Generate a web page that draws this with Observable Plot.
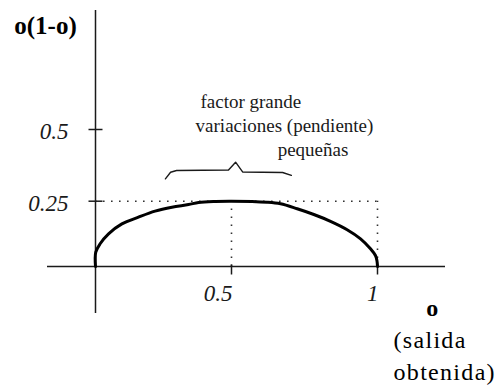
<!DOCTYPE html>
<html>
<head>
<meta charset="utf-8">
<script src="https://cdn.jsdelivr.net/npm/d3@7"></script>
<script src="https://cdn.jsdelivr.net/npm/@observablehq/plot@0.6"></script>
<style>
  html, body { margin: 0; padding: 0; background: #fff; }
  #chart svg { display: block; background: #fff; }
</style>
</head>
<body>
<div id="chart"></div>
<script>
// Curve o(1-o) as drawn in the reference
const curveO = [0, 0.001, 0.017, 0.048, 0.097, 0.158, 0.219, 0.281, 0.342, 0.379, 0.441, 0.5,
                0.622, 0.668, 0.725, 0.782, 0.839, 0.896, 0.942, 0.976, 0.993, 0.998, 1];
const curveV = [0, 0.055, 0.087, 0.125, 0.163, 0.189, 0.212, 0.227, 0.237, 0.245, 0.249, 0.25,
                0.246, 0.240, 0.221, 0.199, 0.173, 0.141, 0.106, 0.068, 0.042, 0.023, 0];

// Peak reference and guides
const peakO = 0.5;
const peakV = 0.25;
const endO = 1;

// Ticks
const xTicks = [0.5, 1];
const xTickLabels = ["0.5", "1"];
const yTicks = [0.25, 0.5];
const yTickLabels = ["0.25", "0.5"];

// Brace drawn over the flat part
const braceO = [0.257, 0.276, 0.298, 0.489, 0.514, 0.538, 0.675, 0.705];
const braceV = [0.328, 0.351, 0.357, 0.359, 0.386, 0.352, 0.350, 0.340];

// Texts
const titleText = "o(1-o)";
const noteLines = ["factor grande", "variaciones (pendiente)", "pequeñas"];
const xLabelName = "o";
const xLabelLines = ["(salida", "obtenida)"];

const curve = curveO.map((o, i) => ({o, v: curveV[i]}));
const brace = braceO.map((o, i) => ({o, v: braceV[i]}));

const hDash = {draw(ctx, size) { const r = Math.sqrt(size / Math.PI); ctx.moveTo(-r, 0); ctx.lineTo(r, 0); }};
const vDash = {draw(ctx, size) { const r = Math.sqrt(size / Math.PI); ctx.moveTo(0, -r); ctx.lineTo(0, r); }};

const serif = "Liberation Serif, Times New Roman, serif";
const ink = "#1a1a1a";

const chart = Plot.plot({
  width: 496,
  height: 385,
  marginLeft: 47,
  marginRight: 51,
  marginTop: 10,
  marginBottom: 72,
  style: {background: "#fff", overflow: "visible"},
  x: {type: "linear", domain: [-0.176, 0, 0.5, 1, 1.233], range: [47, 95, 231, 377, 445], axis: null},
  y: {type: "linear", domain: [-0.18, 0, 0.25, 0.5, 0.93], range: [313, 266, 200.7, 129, 10], axis: null},
  marks: [
    // axes
    Plot.ruleX([0], {stroke: ink, strokeWidth: 1.5}),
    Plot.ruleY([0], {stroke: ink, strokeWidth: 1.5}),
    // dotted guides
    Plot.ruleY([peakV], {x1: 0, x2: endO, stroke: "#333", strokeWidth: 1.6, strokeDasharray: "1.6,6.4"}),
    Plot.ruleX([peakO, endO], {y1: 0, y2: peakV, stroke: "#333", strokeWidth: 1.6, strokeDasharray: "1.6,6.4"}),
    // tick dashes
    Plot.dot(yTicks, {x: 0, y: d => d, symbol: hDash, r: 7, fill: "none", stroke: ink, strokeWidth: 1.5}),
    Plot.dot(xTicks, {x: d => d, y: 0, symbol: vDash, r: 5, dy: 3, fill: "none", stroke: ink, strokeWidth: 1.5}),
    // tick labels
    Plot.text(yTicks, {x: 0, y: d => d, text: (d, i) => yTickLabels[i], textAnchor: "end", dx: -27, dy: 2,
      fontFamily: serif, fontStyle: "italic", fontSize: 23, fill: ink}),
    Plot.text(xTicks, {x: d => d, y: 0, text: (d, i) => xTickLabels[i], textAnchor: "end", dx: 1, dy: 27,
      fontFamily: serif, fontStyle: "italic", fontSize: 23, fill: ink}),
    // curve
    Plot.line(curve, {x: "o", y: "v", curve: "catmull-rom", stroke: "#000", strokeWidth: 3}),
    // brace
    Plot.line(brace, {x: "o", y: "v", curve: "linear", stroke: ink, strokeWidth: 1.4}),
    // annotation
    Plot.text(noteLines, {x: [0.386, 0.368, 0.658], y: [0.601, 0.514, 0.430], text: d => d, textAnchor: "start",
      fontFamily: serif, fontSize: 19, fill: ink}),
    // title (y label)
    Plot.text([titleText], {x: -0.298, y: 0.875, text: d => d, textAnchor: "start",
      fontFamily: serif, fontWeight: "bold", fontSize: 25, fill: "#000"}),
    // x label
    Plot.text([xLabelName], {x: 1.188, y: -0.161, text: d => d, textAnchor: "middle",
      fontFamily: serif, fontWeight: "bold", fontSize: 24, fill: "#000"}),
    Plot.text(xLabelLines, {x: 1.055, y: [-0.2835, -0.406], text: d => d, textAnchor: "start",
      fontFamily: serif, fontSize: 24, fill: "#000"})
  ]
});

// letter spacing for the typewriter-like x label lines
d3.select(chart).selectAll("text").filter(function () {
  const t = this.textContent; return t === "(salida" || t === "obtenida)";
}).style("letter-spacing", "1.3px");

document.getElementById("chart").appendChild(chart);
</script>
</body>
</html>
